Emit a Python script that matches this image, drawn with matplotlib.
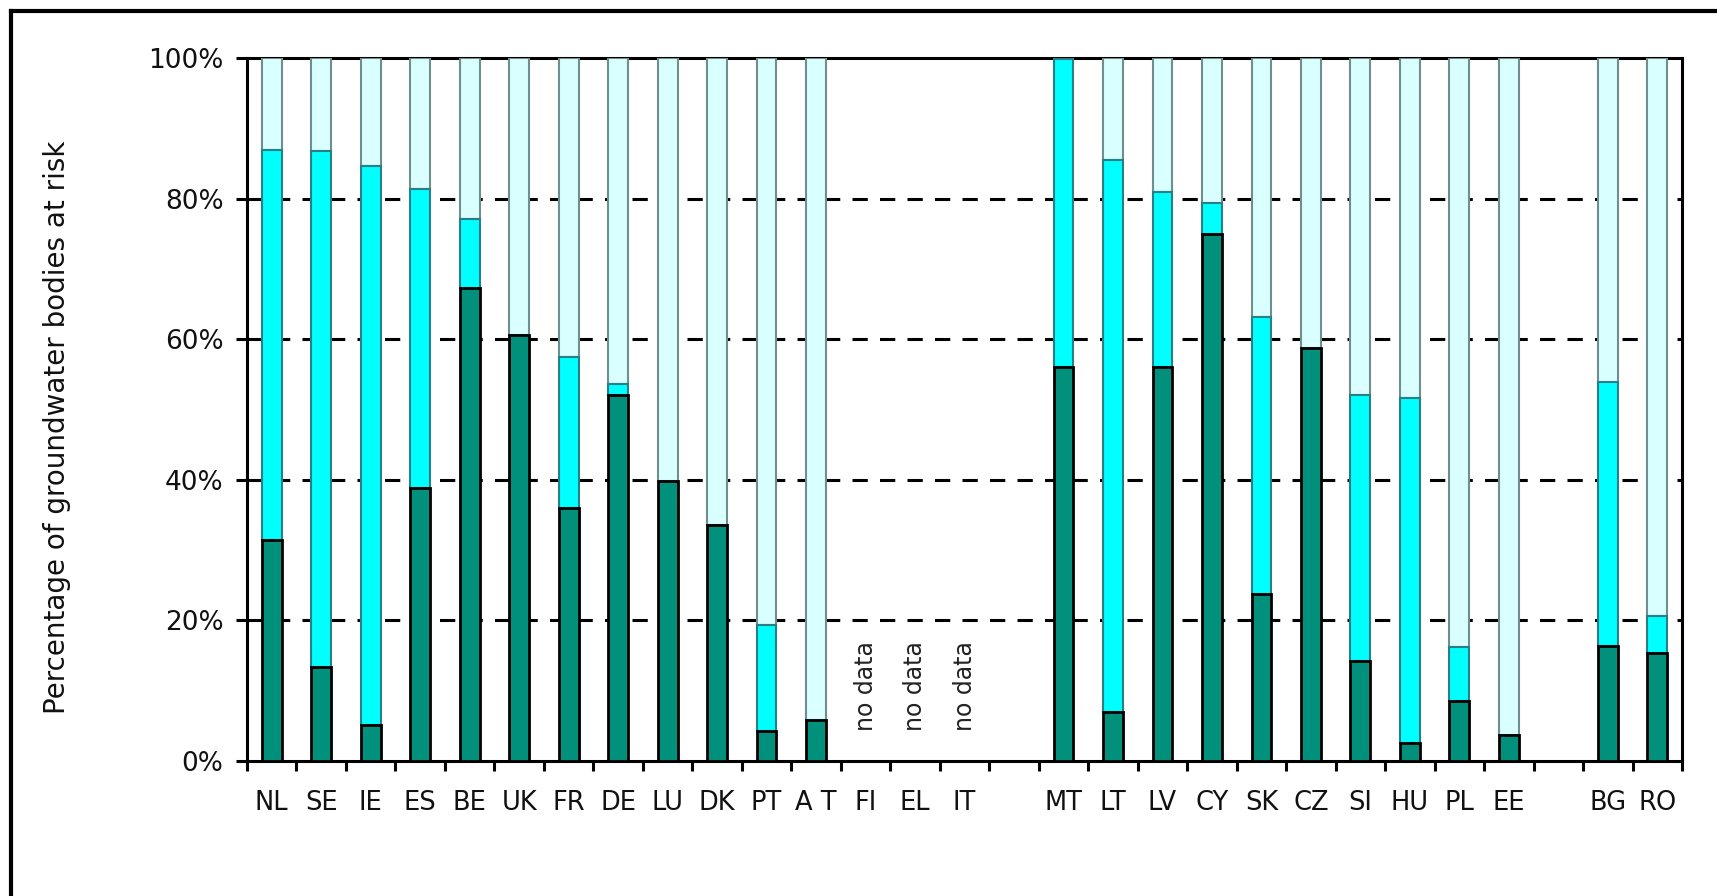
import matplotlib
matplotlib.use("Agg")
import matplotlib.pyplot as plt
from matplotlib.lines import Line2D
import numpy as np

plt.rcParams['font.family'] = ['DejaVu Sans']

# ---- data -------------------------------------------------------------
countries = ["NL", "SE", "IE", "ES", "BE", "UK", "FR", "DE", "LU", "DK", "PT", "A T", "FI", "EL", "IT",
             "",
             "MT", "LT", "LV", "CY", "SK", "CZ", "SI", "HU", "PL", "EE",
             "",
             "BG", "RO"]
# lower (dark) segment, in %
dark = [31.5, 13.4, 5.1, 38.8, 67.3, 60.6, 36.0, 52.0, 39.9, 33.5, 4.2, 5.8, None, None, None,
        None,
        56.1, 7.0, 56.1, 74.9, 23.8, 58.7, 14.2, 2.6, 8.6, 3.7,
        None,
        16.4, 15.4]
# top of the middle (cyan) segment, cumulative %
cyan_top = [86.9, 86.8, 84.7, 81.3, 77.1, 60.6, 57.5, 53.6, 39.9, 33.5, 19.3, 5.8, None, None, None,
            None,
            99.8, 85.5, 81.0, 79.4, 63.1, 58.7, 52.0, 51.7, 16.2, 3.7,
            None,
            53.9, 20.6]
no_data = ["FI", "EL", "IT"]
yticks = [0, 20, 40, 60, 80, 100]
ylabel = "Percentage of groundwater bodies at risk"

# ---- figure -----------------------------------------------------------
W, H = 1717, 896
fig = plt.figure(figsize=(W / 100, H / 100), dpi=100)
fig.patch.set_facecolor("white")
L, R, B, T = 247, 1682, 761, 58
ax = fig.add_axes([L / W, 1 - B / H, (R - L) / W, (B - T) / H])

n = len(countries)
x = np.arange(n)
bw = 0.4
c_dark, c_cyan, c_light = "#00907c", "#00ffff", "#d9ffff"

for i in range(n):
    if dark[i] is None:
        continue
    d = dark[i]
    ct = cyan_top[i]
    ax.bar(x[i], 100 - ct, bottom=ct, width=bw, color=c_light, edgecolor="#6f8f8c",
           linewidth=1.5, zorder=3)
    if ct > d:
        ax.bar(x[i], ct - d, bottom=d, width=bw, color=c_cyan, edgecolor="#2a7f86",
               linewidth=1.5, zorder=3)
    ax.bar(x[i], d, width=bw, color=c_dark, edgecolor="black", linewidth=2.0, zorder=4)

for i, c in enumerate(countries):
    if c in no_data:
        ax.text(x[i], 10.6, "no data", rotation=90, ha="center", va="center",
                fontsize=17, color="#222222")

ax.set_xlim(-0.5, n - 0.5)
ax.set_ylim(0, 100)
ax.set_yticks(yticks)
ax.set_yticklabels([f"{v}%" for v in yticks], fontsize=19, color="#111111")
for v in yticks[1:-1]:
    ax.axhline(v, color="black", lw=2.2, ls=(0, (5, 4)), zorder=1)

ax.set_xticks(np.arange(n + 1) - 0.5)
ax.set_xticklabels([])
ax.set_xticks(x, minor=True)
ax.set_xticklabels(countries, minor=True, fontsize=18.5, color="#111111")
ax.tick_params(axis="x", which="minor", length=0, pad=21)
ax.tick_params(axis="x", which="major", direction="out", length=7, width=2.2)
ax.tick_params(axis="y", direction="out", length=8, width=2.2, pad=9)
for s in ax.spines.values():
    s.set_linewidth(2.2)
    s.set_color("black")

fig.text(57 / W, 1 - 427 / H, ylabel, rotation=90, ha="center", va="center",
         fontsize=20, color="#111111")

# outer frame (left and top edges)
fig.add_artist(Line2D([11 / W, 11 / W], [0, 1 - 11 / H], transform=fig.transFigure,
                      color="black", lw=3))
fig.add_artist(Line2D([11 / W, 1], [1 - 11 / H, 1 - 11 / H], transform=fig.transFigure,
                      color="black", lw=3))

fig.savefig("out.png", dpi=100)
